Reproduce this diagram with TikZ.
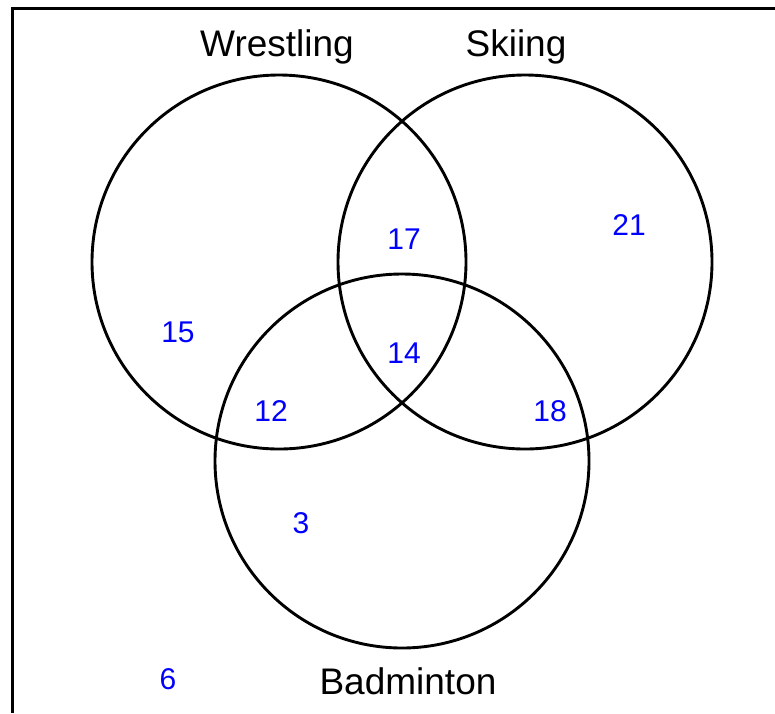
\documentclass[tikz,border=0pt]{standalone}
\usepackage{fontspec}
\setmainfont{Liberation Sans}
\begin{document}
\begin{tikzpicture}[x=1pt,y=-1pt,
  setcircle/.style={circle,draw=black,line width=2.9pt,minimum size=374pt,inner sep=0pt},
  setlabel/.style={anchor=base,inner sep=0pt,font=\fontsize{37}{44}\selectfont},
  count/.style={anchor=base,inner sep=0pt,text=countblue,font=\fontsize{30}{36}\selectfont}]
\definecolor{countblue}{RGB}{0,0,255}
\useasboundingbox (0,0) rectangle (775,713);
\draw[line width=3pt] (12.5,713) -- (12.5,8.5) -- (775,8.5);
\node[setcircle] (W) at (279,262) {};
\node[setcircle] (S) at (525,262) {};
\node[setcircle] (B) at (402,461) {};
\node[setlabel] (lw) at (277,56) {Wrestling};
\node[setlabel] (ls) at (516,56) {Skiing};
\node[setlabel] (lb) at (408,694) {Badminton};
\node[count] (n17) at (404,249) {17};
\node[count] (n21) at (629,235) {21};
\node[count] (n15) at (178,342) {15};
\node[count] (n14) at (404,363) {14};
\node[count] (n12) at (271,421) {12};
\node[count] (n18) at (550,421) {18};
\node[count] (n3) at (301,533) {3};
\node[count] (n6) at (168,689) {6};
\end{tikzpicture}
\end{document}
